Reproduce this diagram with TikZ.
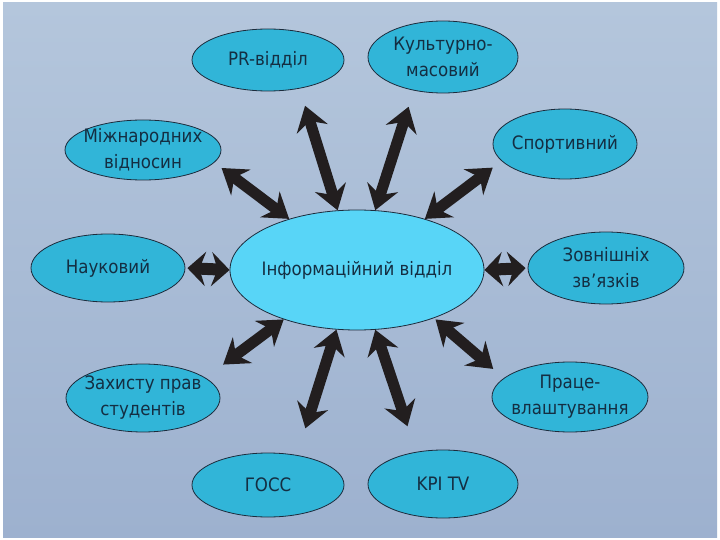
\documentclass[tikz,border=0pt]{standalone}
\usepackage{fontspec}
\usepackage{xcolor}
\usepackage{tikz}
\usetikzlibrary{
arrows.meta,
positioning,
shapes.geometric
}
\newfontfamily\diagfont{DejaVu Sans Condensed}
\definecolor{bgtop}{HTML}{B4C6DC}
\definecolor{bgmid}{HTML}{C6D3E4}
\definecolor{bgbot}{HTML}{9DB1CF}
\definecolor{ellfill}{HTML}{31B5D8}
\definecolor{infofill}{HTML}{58D5F7}
\definecolor{ellborder}{HTML}{1C2B3C}
\definecolor{txtcol}{HTML}{142E42}
\definecolor{arrowcol}{HTML}{221E1F}

\begin{document}
\begin{tikzpicture}[
x=1pt,
y=-1pt,
dept/.style={
ellipse,
draw=ellborder,
line width=0.8pt,
fill=ellfill,
minimum width=152pt,
minimum height=66pt,
inner sep=0pt
},
deptlabel/.style={
text=txtcol,
font=\diagfont\fontsize{18.5}{26}\selectfont,
align=center,
inner sep=0pt
},
biarrow/.style={
draw=arrowcol,
line width=11pt,
{Stealth[length=24pt,width=32pt,inset=8pt]}-{Stealth[length=24pt,width=32pt,inset=8pt]}
},
shortarrow/.style={
draw=arrowcol,
line width=12pt,
{Stealth[length=18pt,width=34pt,inset=6pt]}-{Stealth[length=18pt,width=34pt,inset=6pt]}
}
]

\useasboundingbox (0,0) rectangle (720,540);
\fill[white] (0,0) rectangle (720,540);
\shade[top color=bgtop, middle color=bgmid, bottom color=bgbot] (3,3) rectangle (717,537);

\node[dept, fill=infofill, minimum width=254pt, minimum height=120pt,
label={[deptlabel]center:Інформаційний відділ}] (info) at (357,270) {};

\node[dept, minimum height=62pt, label={[deptlabel]center:PR-відділ}] (pr) at (268,60) {};
\node[dept, minimum width=150pt, minimum height=72pt,
label={[deptlabel]center:{Культурно-\\масовий}}] (kult) at (443,57) {};
\node[dept, minimum width=156pt, minimum height=60pt,
label={[deptlabel]center:{Міжнародних\\відносин}}] (mizh) at (143,150) {};
\node[dept, minimum width=144pt, minimum height=70pt,
label={[deptlabel]center:Спортивний}] (sport) at (565,144) {};
\node[dept, minimum width=154pt, minimum height=68pt,
label={[deptlabel]center:Науковий}] (nauk) at (108,268) {};
\node[dept, minimum width=156pt, minimum height=72pt,
label={[deptlabel]center:{Зовнішніх\\зв’язків}}] (zovn) at (606,268) {};
\node[dept, minimum width=154pt, minimum height=68pt,
label={[deptlabel]center:{Захисту прав\\студентів}}] (zah) at (143,398) {};
\node[dept, minimum width=156pt, minimum height=70pt,
label={[deptlabel]center:{Праце-\\влаштування}}] (prac) at (570,397) {};
\node[dept, minimum height=64pt, label={[deptlabel]center:ГОСС}] (goss) at (268,485) {};
\node[dept, minimum width=150pt, minimum height=68pt,
label={[deptlabel]center:KPI TV}] (kpi) at (443,484) {};

\draw[biarrow, shorten <=18pt] (pr.318) -- (info.108);
\draw[biarrow, shorten <=17pt] (kult.229) -- (info.73);
\draw[biarrow, shorten <=9pt] (mizh.350) -- (info.143);
\draw[biarrow, shorten <=11pt] (sport.195) -- (info.37);
\draw[shortarrow, shorten <=2pt] (nauk.east) -- (info.west);
\draw[shortarrow, shorten <=2pt] (zovn.west) -- (info.east);
\draw[biarrow, shorten <=22pt] (zah.18) -- (info.214);
\draw[biarrow, shorten <=28pt] (goss.46) -- (info.251);
\draw[biarrow, shorten <=27pt] (kpi.130) -- (info.287);
\draw[biarrow, shorten <=14pt, shorten >=2pt] (prac.164) -- (info.328);

\end{tikzpicture}
\end{document}
